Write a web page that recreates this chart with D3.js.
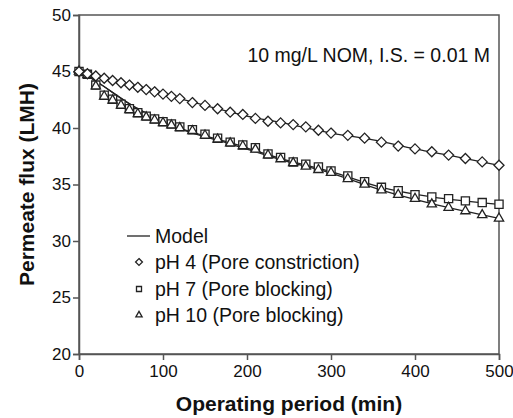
<!DOCTYPE html>
<html>
<head>
<meta charset="utf-8">
<script src="https://cdn.jsdelivr.net/npm/d3@7"></script>
<style>
  body { margin: 0; background: #fff; }
  text { font-family: "Liberation Sans", Arial, sans-serif; fill: #111; }
</style>
</head>
<body>
<div id="chart"></div>
<script>
// sample times (min)
const times = [0,10,20,30,40,50,60,70,80,90,100,110,120,135,150,165,180,195,210,225,240,255,270,285,300,320,340,360,380,400,420,440,460,480,500];
// measured flux (LMH)
const ph4 = [45.0,44.8,44.6,44.4,44.2,44.0,43.8,43.6,43.4,43.2,43.0,42.8,42.6,42.25,42.0,41.7,41.4,41.2,40.85,40.6,40.45,40.3,40.1,39.8,39.55,39.35,39.1,38.75,38.4,38.15,37.9,37.6,37.3,37.0,36.7];
const ph7 = [45.0,44.75,43.8,42.9,42.55,42.1,41.7,41.35,41.05,40.8,40.55,40.35,40.1,39.85,39.45,39.1,38.75,38.5,38.25,37.7,37.4,37.0,36.8,36.55,36.2,35.75,35.25,34.75,34.45,34.1,33.9,33.75,33.55,33.4,33.25];
const ph10 = [45.0,44.7,43.7,42.8,42.45,42.0,41.6,41.25,40.95,40.7,40.45,40.25,40.0,39.75,39.35,39.0,38.65,38.4,38.1,37.6,37.25,36.9,36.6,36.3,36.05,35.5,35.0,34.5,34.1,33.75,33.25,32.95,32.65,32.3,32.0];

// model curves
const model4T = [0,50,100,150,200,250,300,350,400,450,500];
const model4 = [45.0,44.0,43.0,42.0,41.05,40.35,39.55,38.95,38.15,37.45,36.7];
const modelT = [0,10,70,120,180,240,300,360,420,500];
const model7 = [45.0,44.6,41.7,40.0,38.7,37.3,36.15,34.75,33.9,33.25];
const model10 = [45.0,44.6,41.7,39.95,38.6,37.2,36.0,34.5,33.3,32.0];

const xTicks = [0,100,200,300,400,500];
const yTicks = [20,25,30,35,40,45,50];
const legendLabels = ["Model","pH 4 (Pore constriction)","pH 7 (Pore blocking)","pH 10 (Pore blocking)"];

const W = 513, H = 418;
const m = { top: 15, right: 14, bottom: 64, left: 79 };

const svg = d3.select("#chart").append("svg")
  .attr("width", W).attr("height", H);

const x = d3.scaleLinear().domain([0, 500]).range([m.left, W - m.right]);
const y = d3.scaleLinear().domain([20, 50]).range([H - m.bottom, m.top]);

const axisColor = "#555";

// frame
svg.append("rect")
  .attr("x", x(0)).attr("y", y(50))
  .attr("width", x(500) - x(0)).attr("height", y(20) - y(50))
  .attr("fill", "none").attr("stroke", axisColor).attr("stroke-width", 1.5);

const xAxis = svg.append("g")
  .attr("transform", `translate(0,${y(20)})`)
  .call(d3.axisBottom(x).tickValues(xTicks).tickSize(6).tickPadding(5));
const yAxis = svg.append("g")
  .attr("transform", `translate(${x(0)},0)`)
  .call(d3.axisLeft(y).tickValues(yTicks).tickSize(6).tickPadding(2));

[xAxis, yAxis].forEach(g => {
  g.select(".domain").attr("stroke", axisColor).attr("stroke-width", 1.5);
  g.selectAll(".tick line").attr("stroke", axisColor).attr("stroke-width", 1.5);
  g.selectAll(".tick text").attr("fill", "#111")
    .style("font-family", "Liberation Sans, Arial, sans-serif").style("font-size", "17px");
});

// axis titles
svg.append("text")
  .attr("x", (x(0) + x(500)) / 2).attr("y", 411)
  .attr("text-anchor", "middle")
  .style("font-weight", "bold").style("font-size", "21px")
  .text("Operating period (min)");
svg.append("text")
  .attr("transform", `translate(34,${(y(20) + y(50)) / 2}) rotate(-90)`)
  .attr("text-anchor", "middle")
  .style("font-weight", "bold").style("font-size", "21px")
  .text("Permeate flux (LMH)");

// annotation
svg.append("text")
  .attr("x", 490).attr("y", 62)
  .attr("text-anchor", "end")
  .style("font-size", "19.5px")
  .text("10 mg/L NOM, I.S. = 0.01 M");

// model lines
const line = d3.line().x(d => x(d[0])).y(d => y(d[1])).curve(d3.curveMonotoneX);
[[model4T, model4], [modelT, model7], [modelT, model10]].forEach(([t, v]) => {
  svg.append("path")
    .datum(t.map((d, i) => [d, v[i]]))
    .attr("d", line)
    .attr("fill", "none").attr("stroke", "#222").attr("stroke-width", 1.3);
});

// markers
const diamond = d3.symbol().type(d3.symbolDiamond2);
const square = d3.symbol().type(d3.symbolSquare2);
const triangle = d3.symbol().type(d3.symbolTriangle2);
const markerStyle = sel => sel.attr("fill", "#fff").attr("stroke", "#222").attr("stroke-width", 1.3);

const series = [
  { v: ph7, sym: square, size: 85 },
  { v: ph10, sym: triangle, size: 62 },
  { v: ph4, sym: diamond, size: 64 }
];
series.forEach(s => {
  svg.append("g").selectAll("path")
    .data(times.map((t, i) => [t, s.v[i]]))
    .join("path")
    .attr("transform", d => `translate(${x(d[0])},${y(d[1])})`)
    .attr("d", s.sym.size(s.size)())
    .call(markerStyle);
});

// legend
const lg = svg.append("g");
const rowY = [236, 262, 289, 315];
lg.append("line")
  .attr("x1", 127).attr("x2", 150).attr("y1", rowY[0]).attr("y2", rowY[0])
  .attr("stroke", "#222").attr("stroke-width", 1.3);
[diamond.size(30), square.size(32), triangle.size(28)].forEach((sym, i) => {
  lg.append("path")
    .attr("transform", `translate(139,${rowY[i + 1]})`)
    .attr("d", sym())
    .call(markerStyle);
});
legendLabels.forEach((label, i) => {
  lg.append("text")
    .attr("x", 155).attr("y", rowY[i] + 7)
    .style("font-size", "19.5px")
    .text(label);
});
</script>
</body>
</html>
